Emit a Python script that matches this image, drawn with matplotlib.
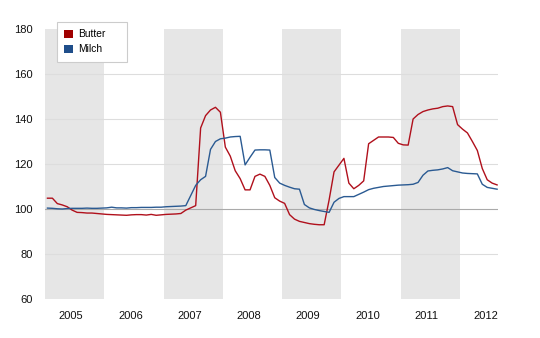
import numpy as np
import matplotlib
matplotlib.use("Agg")
import matplotlib.pyplot as plt
from matplotlib.patches import Patch

# monthly index values, Jan 2005 - Aug 2012
butter = [104.8, 104.8, 102.4, 101.8, 101.0, 99.5, 98.5, 98.4, 98.2, 98.2, 98.0, 97.8,
          97.6, 97.5, 97.4, 97.3, 97.2, 97.4, 97.5, 97.5, 97.3, 97.6, 97.2, 97.4,
          97.6, 97.7, 97.8, 98.0, 99.5, 100.5, 101.5, 136.0, 141.5, 144.0, 145.2, 143.0,
          127.5, 123.5, 117.0, 113.5, 108.5, 108.5, 114.5, 115.5, 114.5, 110.5, 105.0, 103.5,
          102.5, 97.5, 95.5, 94.5, 94.0, 93.5, 93.2, 93.0, 93.0, 104.0, 116.5, 119.5,
          122.5, 111.5, 109.0, 110.5, 112.5, 129.0, 130.5, 132.0, 132.0, 132.0, 131.8, 129.2,
          128.5, 128.4, 140.0, 142.0, 143.3, 144.0, 144.5, 144.8, 145.5, 145.8, 145.5, 137.5,
          135.5, 133.8, 130.0, 126.0, 118.0, 113.0, 111.5, 110.7]
milch = [100.4, 100.3, 100.1, 100.0, 100.2, 100.3, 100.3, 100.3, 100.4, 100.3, 100.3, 100.4,
         100.5, 100.8, 100.5, 100.5, 100.4, 100.6, 100.6, 100.7, 100.7, 100.7, 100.8, 100.8,
         101.0, 101.1, 101.2, 101.3, 101.5, 106.0, 110.5, 113.0, 114.5, 126.5, 130.0, 131.2,
         131.5, 132.0, 132.2, 132.3, 119.6, 123.0, 126.2, 126.3, 126.3, 126.2, 114.0, 111.5,
         110.5, 109.7, 109.0, 108.8, 102.0, 100.5, 99.8, 99.3, 98.9, 98.5, 103.0, 104.7,
         105.5, 105.5, 105.5, 106.5, 107.5, 108.6, 109.2, 109.6, 110.0, 110.2, 110.4, 110.6,
         110.7, 110.8, 111.0, 111.8, 115.0, 116.9, 117.2, 117.4, 117.8, 118.4, 117.0, 116.5,
         116.0, 115.8, 115.7, 115.6, 111.0, 109.6, 109.2, 108.8]
years = [2005, 2006, 2007, 2008, 2009, 2010, 2011, 2012]
shaded_years = [2005, 2007, 2009, 2011]

x = 2005 + (np.arange(len(butter)) + 0.5) / 12

plt.rcParams["font.family"] = ["Liberation Sans", "DejaVu Sans"]

fig = plt.figure(figsize=(5.4, 3.38), dpi=100)
ax = fig.add_axes([0.0833, 0.1154, 0.8389, 0.7988])

for yr in shaded_years:
    ax.axvspan(yr, yr + 1, color="#e6e6e6", lw=0, zorder=0)

for v in [80, 120, 140, 160]:
    ax.axhline(v, color="#dddddd", lw=0.8, zorder=1)
ax.axhline(100, color="#aaaaaa", lw=0.8, zorder=1)

ax.plot(x, butter, color="#b0101c", lw=1.0, zorder=3)
ax.plot(x, milch, color="#2a5a92", lw=1.0, zorder=3)

ax.set_xlim(2005, 2012.64)
ax.set_ylim(60, 180)
ax.set_yticks([60, 80, 100, 120, 140, 160, 180])
ax.set_xticks([y + 0.44 for y in years])
ax.set_xticklabels([str(y) for y in years])
ax.tick_params(length=0, labelsize=8, colors="#111111")
ax.tick_params(axis="x", pad=9)
ax.tick_params(axis="y", pad=9)
for s in ax.spines.values():
    s.set_visible(False)

# legend box: fixed width, handles left-aligned
handles = [Patch(facecolor="#a00000", edgecolor="none", label="Butter"),
           Patch(facecolor="#1f4e8a", edgecolor="none", label="Milch")]
leg = ax.legend(handles=handles, loc="upper left",
                bbox_to_anchor=(0.0265, 1.026, 70 / 453, 0), mode="expand",
                borderaxespad=0, fontsize=7.4, handlelength=0.85, handleheight=0.85,
                handletextpad=0.5, labelspacing=0.5, borderpad=0.7,
                fancybox=False, framealpha=1, edgecolor="#cccccc")
leg.get_frame().set_linewidth(0.8)

fig.savefig("out.png", dpi=100)
